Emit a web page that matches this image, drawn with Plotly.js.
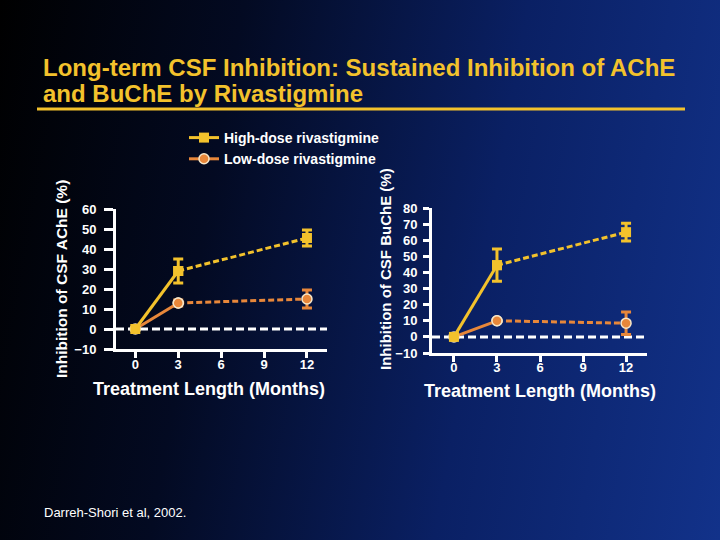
<!DOCTYPE html>
<html>
<head>
<meta charset="utf-8">
<script src="https://cdn.plot.ly/plotly-3.0.1.min.js"></script>
<style>
html,body{margin:0;padding:0;width:720px;height:540px;overflow:hidden;}
body{background:linear-gradient(100deg,#000000 0%,#030a22 30%,#0a2064 65%,#12328a 100%);}
#chart{width:720px;height:540px;}
</style>
</head>
<body>
<div id="chart"></div>
<script>
// Data
const months = [0, 3, 12];
const acheHigh = [0, 29, 45.5];
const acheHighErr = [0, 6, 4];
const acheLow = [0, 13, 15];
const acheLowErr = [0, 1.5, 4.5];
const bucheHigh = [0, 44.5, 65];
const bucheHighErr = [0, 10, 5.5];
const bucheLow = [0, 10, 8.5];
const bucheLowErr = [0, 0, 7];
const xTicks = [0, 3, 6, 9, 12];
const acheTicks = [-10, 0, 10, 20, 30, 40, 50, 60];
const bucheTicks = [-10, 0, 10, 20, 30, 40, 50, 60, 70, 80];
const seriesNames = ['High-dose rivastigmine', 'Low-dose rivastigmine'];
const titleLines = ['Long-term CSF Inhibition: Sustained Inhibition of AChE', 'and BuChE by Rivastigmine'];

const YELLOW = '#f3c22c';
const ORANGE = '#e8873a';
const FONT = 'Liberation Sans, Arial, sans-serif';
const W = 720, H = 540;
const px = v => v / W;
const py = v => 1 - v / H;

function seriesTraces(vals, errs, color, isHigh, xa, ya, legend) {
  const marker = isHigh
    ? {symbol: 'square', size: 10, color: color}
    : {symbol: 'circle', size: 10, color: color, line: {color: '#f6e6c8', width: 1.5}};
  const solid = {
    x: months.slice(0, 2), y: vals.slice(0, 2), xaxis: xa, yaxis: ya,
    type: 'scatter', mode: 'lines+markers',
    name: isHigh ? seriesNames[0] : seriesNames[1],
    legendrank: isHigh ? 1 : 2,
    showlegend: legend,
    line: {color: color, width: 3},
    marker: marker, hoverinfo: 'x+y'
  };
  const dashed = {
    x: months.slice(1), y: vals.slice(1), xaxis: xa, yaxis: ya,
    type: 'scatter', mode: 'lines+markers', showlegend: false,
    line: {color: color, width: 3, dash: '6px,3px'},
    marker: marker,
    error_y: {type: 'data', array: errs.slice(1), visible: true, color: color, thickness: 3, width: 5},
    hoverinfo: 'x+y'
  };
  return [dashed, solid];
}

const traces = [].concat(
  seriesTraces(acheLow, acheLowErr, ORANGE, false, 'x', 'y', true),
  seriesTraces(acheHigh, acheHighErr, YELLOW, true, 'x', 'y', true),
  seriesTraces(bucheLow, bucheLowErr, ORANGE, false, 'x2', 'y2', false),
  seriesTraces(bucheHigh, bucheHighErr, YELLOW, true, 'x2', 'y2', false)
);

const axisBase = {
  showgrid: false, zeroline: false, showline: true, linecolor: '#ffffff', linewidth: 3,
  ticks: 'outside', tickcolor: '#ffffff', tickwidth: 3,
  tickfont: {family: FONT, size: 13, color: '#ffffff', weight: 'bold'},
  fixedrange: true
};

function txt(text, x, y, size, opts) {
  return Object.assign({
    text: text, xref: 'paper', yref: 'paper', x: px(x), y: py(y),
    xanchor: 'center', yanchor: 'middle', showarrow: false,
    font: {family: FONT, size: size, color: '#ffffff', weight: 'bold'}
  }, opts || {});
}

const layout = {
  width: W, height: H,
  paper_bgcolor: 'rgba(0,0,0,0)', plot_bgcolor: 'rgba(0,0,0,0)',
  margin: {l: 0, r: 0, t: 0, b: 0},
  showlegend: true,
  legend: {
    x: px(184), y: py(122), xanchor: 'left', yanchor: 'top',
    bgcolor: 'rgba(0,0,0,0)', itemwidth: 30, tracegroupgap: 0,
    font: {family: FONT, size: 14, color: '#ffffff', weight: 'bold'}
  },
  xaxis: Object.assign({}, axisBase, {
    domain: [px(116), px(327)], range: [-1.35, 13.4], tickvals: xTicks, ticklen: 6,
    anchor: 'y', ticklabelstandoff: -5
  }),
  yaxis: Object.assign({}, axisBase, {
    domain: [py(349), py(209)], range: [-10, 60], tickvals: acheTicks, ticklen: 9,
    anchor: 'x', ticklabelstandoff: 5
  }),
  xaxis2: Object.assign({}, axisBase, {
    domain: [px(432), px(647)], range: [-1.53, 13.46], tickvals: xTicks, ticklen: 6,
    anchor: 'y2', ticklabelstandoff: -6
  }),
  yaxis2: Object.assign({}, axisBase, {
    domain: [py(353), py(208)], range: [-10, 80], tickvals: bucheTicks, ticklen: 6,
    anchor: 'x2', ticklabelstandoff: 3
  }),
  shapes: [
    {type: 'line', xref: 'x domain', yref: 'y', x0: 0, x1: 1, y0: 0, y1: 0,
     line: {color: '#ffffff', width: 3, dash: '8px,4px'}, layer: 'below'},
    {type: 'line', xref: 'x2 domain', yref: 'y2', x0: 0, x1: 1, y0: 0, y1: 0,
     line: {color: '#ffffff', width: 3, dash: '8px,4px'}, layer: 'below'},
    {type: 'line', xref: 'paper', yref: 'paper', x0: px(37), x1: px(685), y0: py(109), y1: py(109),
     line: {color: YELLOW, width: 3}}
  ],
  annotations: [
    txt(titleLines[0], 41, 68, 24, {xanchor: 'left', font: {family: FONT, size: 24, color: YELLOW, weight: 'bold'}}),
    txt(titleLines[1], 41, 93, 24, {xanchor: 'left', font: {family: FONT, size: 24, color: YELLOW, weight: 'bold'}}),
    txt('Inhibition of CSF AChE (%)', 61, 279, 15.5, {textangle: -90}),
    txt('Inhibition of CSF BuChE (%)', 385, 269, 15, {textangle: -90}),
    txt('Treatment Length (Months)', 209, 389, 18),
    txt('Treatment Length (Months)', 540, 391, 18),
    txt('Darreh-Shori et al, 2002.', 42, 512, 13, {xanchor: 'left', font: {family: FONT, size: 13, color: '#ffffff'}})
  ]
};

Plotly.newPlot('chart', traces, layout, {staticPlot: true, displayModeBar: false});
</script>
</body>
</html>
